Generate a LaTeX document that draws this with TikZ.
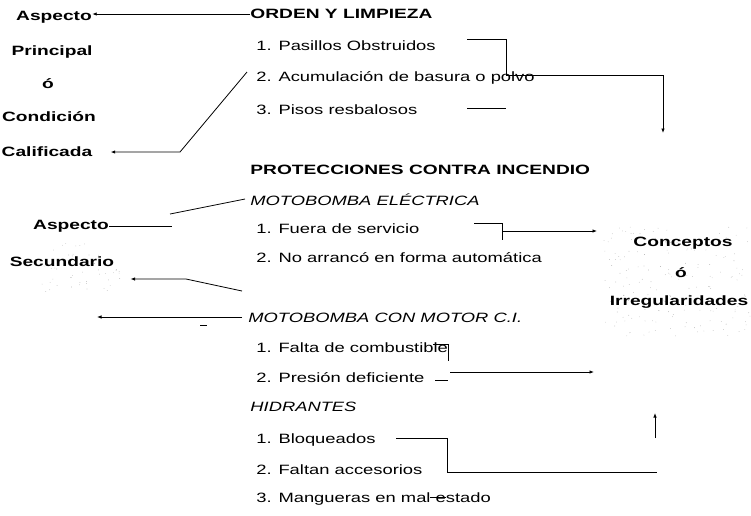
\documentclass[tikz,border=0pt]{standalone}
\usepackage{fontspec}
\setmainfont{Liberation Sans}[FakeStretch=1.36,BoldFeatures={FakeStretch=1.42}]
\usetikzlibrary{arrows.meta}
\tikzset{
  >={Latex[length=4.5pt,width=3.5pt]},
  lbl/.style={inner sep=0pt, font=\fontsize{13.5}{15}\selectfont},
  hd/.style={inner sep=0pt, font=\fontsize{13.5}{15}\selectfont\bfseries},
  sub/.style={inner sep=0pt, font=\fontsize{13.5}{15}\selectfont\itshape}
}
\begin{document}
\begin{tikzpicture}[x=1pt,y=-1pt,line width=0.8pt]
\useasboundingbox (0,0) rectangle (751,515);
% scanner speckle
\pgfmathsetseed{7}
\foreach \i in {1,...,190}
  \fill[black!40] ({604+147*rnd},{226+110*rnd}) circle (0.33pt);
\foreach \i in {1,...,55}
  \fill[black!40] ({42+78*rnd},{243+50*rnd}) circle (0.33pt);
% left: aspecto principal
\node[hd] (asp1) at (54,17) {Aspecto};
\node[hd] (princ) at (52,52) {Principal};
\node[hd] (o1) at (48,84) {ó};
\node[hd] (cond) at (49,117) {Condición};
\node[hd] (calif) at (47,152) {Calificada};
% left: aspecto secundario
\node[hd] (asp2) at (71,226) {Aspecto};
\node[hd] (secund) at (62,262) {Secundario};
% right: conceptos
\node[hd] (concep) at (683,243) {Conceptos};
\node[hd] (o2) at (681,273) {ó};
\node[hd] (irreg) at (679,302) {Irregularidades};
% middle list
\node[hd,right] (orden) at (250,14) {ORDEN Y LIMPIEZA};
\node[lbl,right] (pasillos) at (256,46) {1. Pasillos Obstruidos};
\node[lbl,right] (acum) at (256,78) {2. Acumulación de basura o polvo};
\node[lbl,right] (pisos) at (256,110) {3. Pisos resbalosos};
\node[hd,right] (protec) at (250,170) {PROTECCIONES CONTRA INCENDIO};
\node[sub,right] (electr) at (250,200) {MOTOBOMBA ELÉCTRICA};
\node[lbl,right] (fuera) at (256,229) {1. Fuera de servicio};
\node[lbl,right] (noarr) at (256,258) {2. No arrancó en forma automática};
\node[sub,right] (motor) at (248,318) {MOTOBOMBA CON MOTOR C.I.};
\node[lbl,right] (falta) at (256,348) {1. Falta de combustible};
\node[lbl,right] (presion) at (256,378) {2. Presión deficiente};
\node[sub,right] (hidr) at (250,407) {HIDRANTES};
\node[lbl,right] (bloq) at (256,440) {1. Bloqueados};
\node[lbl,right] (faltan) at (256,470) {2. Faltan accesorios};
\node[lbl,right] (mang) at (256,499) {3. Mangueras en mal estado};
% connectors, upper block
\draw[->] (orden.west) -- (orden.west -| asp1.east);
\coordinate (k1) at (247,72);
\coordinate (k2) at (180,152);
\draw[->,shorten >=18pt] (k1) -- (k2) -- (calif.east);
\coordinate (k3) at (467,39);
\coordinate (k4) at (506,39);
\coordinate (k5) at (506,75);
\coordinate (k6) at (663,75);
\coordinate (k7) at (663,133);
\draw (k3) -- (k4) -- (k5);
\draw[->] (k5) -- (k6) -- (k7);
\draw (467,108) -- (506,108);
% connectors, middle block
\coordinate (k8) at (245,199);
\coordinate (k9) at (170,214);
\draw (k8) -- (k9);
\coordinate (k10) at (172,226);
\draw (asp2.east) -- (k10);
\coordinate (k11) at (242,291);
\coordinate (k12) at (186,279);
\draw[->,shorten >=16pt] (k11) -- (k12) -- (secund.east |- k12);
\coordinate (k13) at (242,317);
\coordinate (k14) at (97,317);
\draw[->] (k13) -- (k14);
\draw (200,325) -- (207,325);
\coordinate (k15) at (474,223);
\coordinate (k16) at (502,223);
\coordinate (k17) at (502,240);
\coordinate (k18) at (502,231);
\draw (k15) -- (k16) -- (k17);
\draw[->] (k18) -- (597,231);
% connectors, lower block
\coordinate (k19) at (433,344);
\coordinate (k20) at (448,344);
\coordinate (k21) at (448,361);
\draw (k19) -- (k20) -- (k21);
\draw (435,380) -- (448,380);
\coordinate (k22) at (450,372);
\coordinate (k23) at (594,372);
\draw[->] (k22) -- (k23);
\coordinate (k24) at (655,438);
\coordinate (k25) at (655,413);
\draw[->] (k24) -- (k25);
\coordinate (k26) at (396,438);
\coordinate (k27) at (447,438);
\coordinate (k28) at (447,472);
\coordinate (k29) at (657,472);
\draw (k26) -- (k27) -- (k28) -- (k29);
\draw (430,497) -- (446,497);
\end{tikzpicture}
\end{document}
